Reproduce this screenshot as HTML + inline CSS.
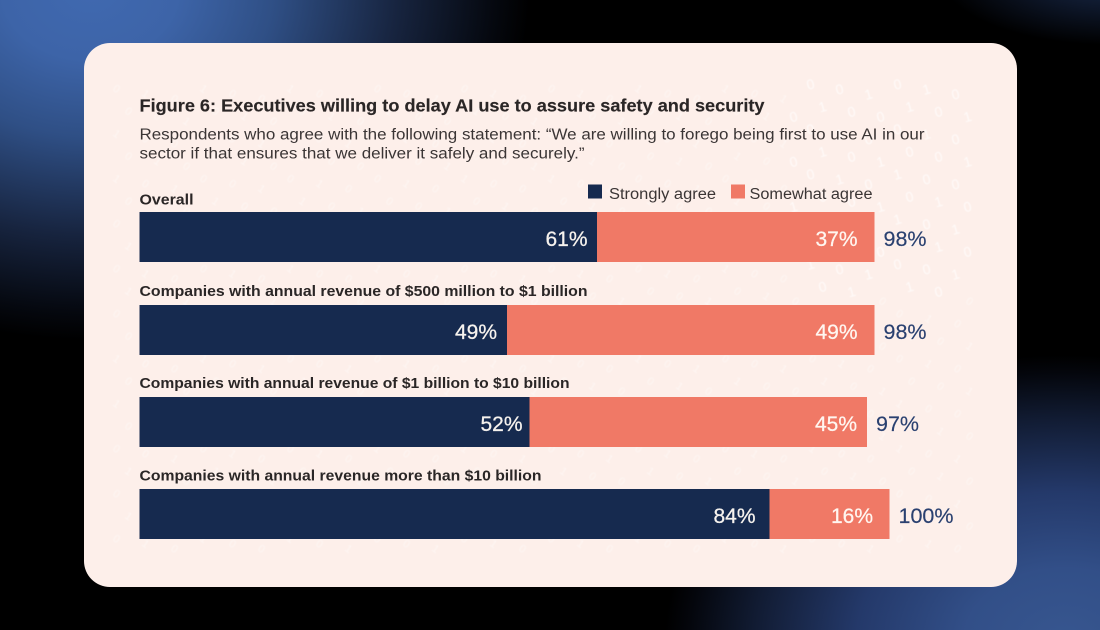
<!DOCTYPE html>
<html lang="en">
<head>
<meta charset="utf-8">
<title>Figure 6: Executives willing to delay AI use</title>
<style>
html,body{margin:0;padding:0;width:1100px;height:630px;overflow:hidden;background:#000}
#bg{position:absolute;left:0;top:0;width:1100px;height:630px;
background:
radial-gradient(ellipse 440px 350px at 90px -10px,#4069b0 0%,#3d64a8 20%,#2f4f85 42%,#17243f 70%,#05080f 92%,rgba(0,0,0,0) 100%),
radial-gradient(ellipse 400px 285px at 1065px 640px,#37568f 0%,#324f88 25%,#24396a 52%,#111b32 78%,#04060c 94%,rgba(0,0,0,0) 100%),
radial-gradient(ellipse 170px 70px at 1110px -25px,#1b2c4e 0%,#0d1628 50%,rgba(0,0,0,0) 100%),
#000}
#card{position:absolute;left:84px;top:43px;width:933px;height:544px;background:#fdefea;border-radius:26px}
svg{position:absolute;left:0;top:0}
text{font-family:"Liberation Sans",sans-serif}
</style>
</head>
<body>
<div id="bg"></div>
<div id="card"></div>
<svg id="chart" width="1100" height="630" viewBox="0 0 1100 630" xmlns="http://www.w3.org/2000/svg">
<defs>
<filter id="soft" x="-5%" y="-5%" width="110%" height="110%"><feGaussianBlur stdDeviation="0.35"/></filter>
<filter id="softer" x="-5%" y="-5%" width="110%" height="110%"><feGaussianBlur stdDeviation="0.5"/></filter>
</defs>
<g id="digits" filter="url(#softer)"></g>
<g id="plot" filter="url(#soft)">
<text x="139.5" y="111.5" font-size="17.6" font-weight="700" fill="#2b2626" stroke="#2b2626" stroke-width="0.15" textLength="625" lengthAdjust="spacingAndGlyphs">Figure 6: Executives willing to delay AI use to assure safety and security</text>
<text x="139.5" y="139.5" font-size="15.4" fill="#3a3535" textLength="785" lengthAdjust="spacingAndGlyphs">Respondents who agree with the following statement: “We are willing to forego being first to use AI in our</text>
<text x="139.5" y="158.5" font-size="15.4" fill="#3a3535" textLength="445" lengthAdjust="spacingAndGlyphs">sector if that ensures that we deliver it safely and securely.”</text>
<rect x="588" y="184.5" width="14" height="14" fill="#182c50"/>
<text x="609" y="199" font-size="15.4" fill="#3a3535" textLength="107" lengthAdjust="spacingAndGlyphs">Strongly agree</text>
<rect x="731" y="184.5" width="14" height="14" fill="#f07966"/>
<text x="749.5" y="199" font-size="15.4" fill="#3a3535" textLength="123" lengthAdjust="spacingAndGlyphs">Somewhat agree</text>
</g>
</svg>
<script>
const categories = ["Overall", "Companies with annual revenue of $500 million to $1 billion", "Companies with annual revenue of $1 billion to $10 billion", "Companies with annual revenue more than $10 billion"];
const stronglyAgree = [61, 49, 52, 84];
const somewhatAgree = [37, 49, 45, 16];
const totals = [98, 98, 97, 100];

const NS = 'http://www.w3.org/2000/svg';
const plot = document.getElementById('plot');
const digits = document.getElementById('digits');
const xScale = v => 139.5 + v * 7.5;
const rowTop = i => Math.round(212.3 + i * 92.3);
const labelWidths = [54, 448, 430, 402];
const labelGap = [7.5, 8.8, 8.8, 8.5];
const navyInset = [9.5, 10, 7, 14];
const coralInset = [17, 17, 10, 16.5];

function make(tag, attrs, text) {
  const el = document.createElementNS(NS, tag);
  for (const k in attrs) el.setAttribute(k, attrs[k]);
  if (text !== undefined) el.textContent = text;
  return el;
}

categories.forEach((cat, i) => {
  const y = rowTop(i);
  const h = 50;
  const label = make('text', {x: 139.5, y: y - labelGap[i], 'font-size': 14.4, 'font-weight': 700, fill: '#2b2626', textLength: labelWidths[i], lengthAdjust: 'spacingAndGlyphs'}, cat);
  
  
  plot.appendChild(label);

  const x1 = xScale(stronglyAgree[i]);
  const x2 = xScale(stronglyAgree[i] + somewhatAgree[i]);

  const bar1 = make('rect', {x: xScale(0), y: y, width: x1 - xScale(0), height: h, fill: '#182c50'});
  
  
  plot.appendChild(bar1);

  const bar2 = make('rect', {x: x1, y: y, width: x2 - x1, height: h, fill: '#f07966'});
  
  
  plot.appendChild(bar2);

  const v1 = make('text', {x: x1 - navyInset[i], y: y + 34, 'font-size': 21, fill: '#f6f2ee', stroke: '#f6f2ee', 'stroke-width': 0.25, 'text-anchor': 'end'}, stronglyAgree[i] + '%');
  
  
  plot.appendChild(v1);

  const v2 = make('text', {x: x2 - coralInset[i], y: y + 34, 'font-size': 21, fill: '#fff6f0', stroke: '#fff6f0', 'stroke-width': 0.25, 'text-anchor': 'end'}, somewhatAgree[i] + '%');
  
  
  plot.appendChild(v2);

  const t = make('text', {x: x2 + 9, y: y + 34, 'font-size': 21.5, fill: '#2a4170', stroke: '#2a4170', 'stroke-width': 0.15}, totals[i] + '%');
  
  
  plot.appendChild(t);
});

// faint decorative binary pattern behind the chart
for (let r = 0; r < 21; r++) {
  for (let c = 0; c < 30; c++) {
    const x = 112 + c * 29 + (r % 2) * 12;
    const y = 90 + r * 22.5 + (c % 3) * 5;
    const strong = x > 780 && y < 300;
    const ch = (r * 7 + c * 3) % 5 < 3 ? '0' : '1';
    const d = make('text', {x: x, y: y, 'font-size': strong ? 14 : 11, fill: '#ffffff', opacity: strong ? 0.7 : 0.4, transform: 'rotate(' + (strong ? -15 : 35) + ' ' + x + ' ' + y + ')'}, ch);
    digits.appendChild(d);
  }
}
</script>
</body>
</html>
